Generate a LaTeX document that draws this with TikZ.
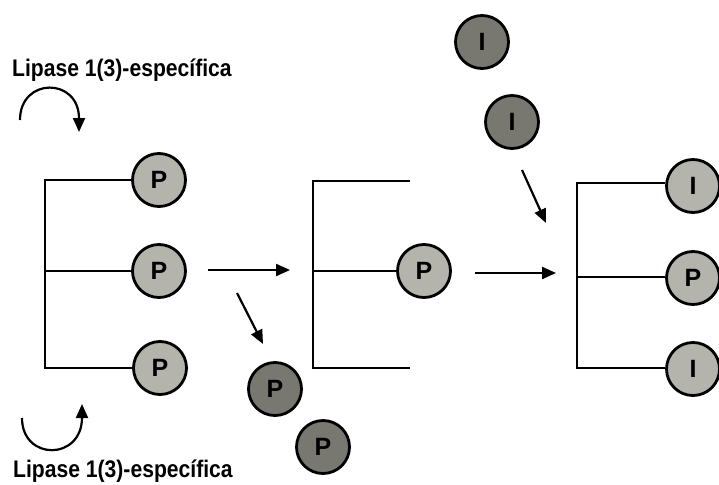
\documentclass[tikz,border=0pt]{standalone}
\usepackage{fontspec}
\setmainfont{Liberation Sans}
\usetikzlibrary{arrows.meta}
\definecolor{ballLight}{RGB}{180,180,172}
\definecolor{ballDark}{RGB}{120,120,113}
\begin{document}
\begin{tikzpicture}[x=1pt,y=-1pt,
 ball/.style={circle,draw=black,line width=2.8pt,minimum size=53pt,inner sep=0pt,font=\bfseries\fontsize{25}{25}\selectfont},
 light/.style={ball,fill=ballLight},
 dark/.style={ball,fill=ballDark},
 bond/.style={line width=1.8pt},
 arr/.style={line width=2.2pt,-{Triangle[length=14pt,width=12pt]}},
 lbl/.style={font=\bfseries\fontsize{24}{24}\selectfont,inner sep=0pt,anchor=base west,xscale=0.88}]
\useasboundingbox (0,0) rectangle (719,484);

% labels
\node[lbl] (ltop) at (12,77) {Lipase 1(3)-específica};
\node[lbl] (lbot) at (13,477) {Lipase 1(3)-específica};

% curved arrows
\coordinate (ct0) at (20,120); \coordinate (ct1) at (79,132);
\draw[arr] (ct0) .. controls (20,77) and (79,77) .. (ct1);
\coordinate (cb0) at (22,418); \coordinate (cb1) at (82,404);
\draw[arr] (cb0) .. controls (22,461) and (82,461) .. (cb1);

% left triglyceride
\node[light] (a1) at (159,180) {P};
\node[light] (a2) at (159,271) {P};
\node[light] (a3) at (160,368) {P};
\coordinate (at) at (45,180);
\coordinate (am) at (45,271);
\coordinate (ab) at (45,368);
\draw[bond] (a1.west) -- (at) -- (ab) -- (a3.west);
\draw[bond] (am) -- (a2.west);

% released P
\node[dark] (d1) at (275,389) {P};
\node[dark] (d2) at (323,447) {P};

% arrows from left
\coordinate (h1s) at (208,270); \coordinate (h1e) at (290,270);
\draw[arr] (h1s) -- (h1e);
\coordinate (g1s) at (237,293); \coordinate (g1e) at (263,344);
\draw[arr] (g1s) -- (g1e);

% middle monoglyceride
\node[light] (m2) at (424,271) {P};
\coordinate (mt) at (313,181);
\coordinate (mm) at (313,271);
\coordinate (mb) at (313,368);
\coordinate (mte) at (410,181);
\coordinate (mbe) at (410,368);
\draw[bond] (mte) -- (mt) -- (mb) -- (mbe);
\draw[bond] (mm) -- (m2.west);

% arrow to right
\coordinate (h2s) at (475,273); \coordinate (h2e) at (556,273);
\draw[arr] (h2s) -- (h2e);

% incoming I
\node[dark] (i1) at (482,42) {I};
\node[dark] (i2) at (512,122) {I};
\coordinate (g2s) at (522,170); \coordinate (g2e) at (546,223);
\draw[arr] (g2s) -- (g2e);

% right structured triglyceride
\node[light] (r1) at (693,186) {I};
\node[light] (r2) at (693,278) {P};
\node[light] (r3) at (693,369) {I};
\coordinate (rt) at (577,183);
\coordinate (rm) at (577,277);
\coordinate (rb) at (577,368);
\draw[bond] (r1.west |- rt) -- (rt) -- (rb) -- (r3.west |- rb);
\draw[bond] (rm) -- (r2.west |- rm);
\end{tikzpicture}
\end{document}
